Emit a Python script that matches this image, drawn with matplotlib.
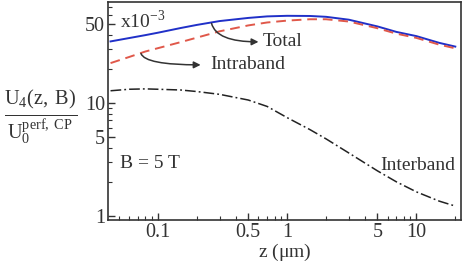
import matplotlib
matplotlib.use("Agg")
import matplotlib.pyplot as plt
from matplotlib.ticker import LogLocator, NullFormatter, FixedLocator, FixedFormatter

plt.rcParams['font.family'] = ['Liberation Serif', 'DejaVu Serif']
plt.rcParams['mathtext.fontset'] = 'custom'
plt.rcParams['mathtext.rm'] = 'Liberation Serif'

# values (units of 1e-3)
z = [0.043, 0.06, 0.08, 0.1, 0.15, 0.2, 0.3, 0.5, 0.7, 1, 1.5, 2, 3, 5, 7, 10, 15, 20]
total = [35, 37.5, 39.8, 41.8, 46, 49, 53, 56.5, 58.3, 59, 58.8, 57.8, 54.5, 47.5, 42.5, 39, 34, 31.5]
intraband = [22.5, 25.5, 28.5, 30.5, 34.5, 37.8, 43, 48.5, 51.5, 53.5, 55, 55, 52.5, 45.8, 41, 37.6, 32.8, 30.4]
interband = [12.8, 13.2, 13.3, 13.2, 13.0, 12.6, 11.9, 10.6, 9.3, 7.4, 5.8, 4.8, 3.6, 2.5, 2.0, 1.63, 1.35, 1.22]

xticks = [0.1, 0.5, 1, 5, 10]
xticklabels = ["0.1", "0.5", "1", "5", "10"]
yticks = [1, 5, 10, 50]
yticklabels = ["1", "5", "10", "50"]

fig = plt.figure(figsize=(4.63, 2.64), dpi=100)
ax = fig.add_axes([0.233, 0.167, 0.763, 0.825])

ax.plot(z, total, color='#2030c8', lw=1.4)
ax.plot(z, intraband, color='#e0584a', lw=1.4, ls=(0, (5, 3)))
ax.plot(z, interband, color='#222222', lw=1.1, ls=(0, (7, 2, 1.2, 2)))

ax.set_xscale('log')
ax.set_yscale('log')
ax.set_xlim(0.041, 22.2)
ax.set_ylim(0.92, 78)

ax.xaxis.set_major_locator(FixedLocator(xticks))
ax.xaxis.set_major_formatter(FixedFormatter(xticklabels))
ax.xaxis.set_minor_locator(LogLocator(base=10, subs=range(2, 10)))
ax.xaxis.set_minor_formatter(NullFormatter())
ax.yaxis.set_major_locator(FixedLocator(yticks))
ax.yaxis.set_major_formatter(FixedFormatter(yticklabels))
ax.yaxis.set_minor_locator(LogLocator(base=10, subs=range(2, 10)))
ax.yaxis.set_minor_formatter(NullFormatter())

ax.tick_params(which='both', direction='in', top=False, right=False,
               labelsize=14.5, colors='#333333', pad=2)
ax.tick_params(which='major', length=5, width=1)
ax.tick_params(which='minor', length=3, width=0.8)
for s in ax.spines.values():
    s.set_color('#333333')
    s.set_linewidth(1.2)

ax.set_xlabel(r"z ($\mathrm{\mu}$m)", fontsize=14, color='#333333', labelpad=0)

fig.text(0.087, 0.557, r"$\frac{\mathrm{U_4(z,\,B)}}{\mathrm{U_0^{perf,\,CP}}}$",
         fontsize=21, ha='center', va='center', color='#333333')

ax.text(0.034, 0.913, r"x10$^{\mathrm{-3}}$", transform=ax.transAxes,
        fontsize=14, va='center', ha='left', color='#333333')
ax.text(0.034, 0.257, "B = 5 T", transform=ax.transAxes,
        fontsize=14, va='center', ha='left', color='#333333')
ax.text(0.983, 0.252, "Interband", transform=ax.transAxes,
        fontsize=14, va='center', ha='right', color='#333333')

arrow = dict(arrowstyle='-|>', color='#333333', lw=1.1, mutation_scale=10,
             shrinkA=0, shrinkB=0)
ax.annotate("", xy=(0.6, 34.7), xytext=(0.26, 50.5),
            arrowprops=dict(connectionstyle="angle3,angleA=-75,angleB=0", **arrow))
ax.text(0.65, 34.7, "Total", fontsize=14, va='center', ha='left', color='#333333')
ax.annotate("", xy=(0.214, 21.7), xytext=(0.074, 27.3),
            arrowprops=dict(connectionstyle="angle3,angleA=-70,angleB=0", **arrow))
ax.text(0.255, 21.7, "Intraband", fontsize=14, va='center', ha='left', color='#333333')

fig.savefig("out.png", dpi=100)
